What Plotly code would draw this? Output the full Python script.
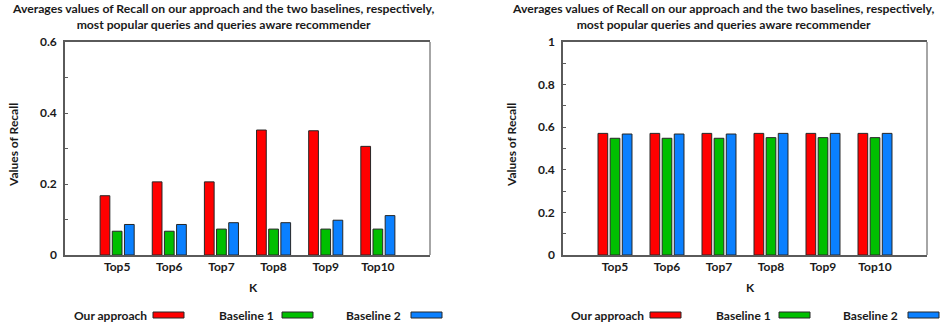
import plotly.graph_objects as go

categories = ["Top5", "Top6", "Top7", "Top8", "Top9", "Top10"]
series_names = ["Our approach", "Baseline 1", "Baseline 2"]
colors = ["#FF0000", "#00BF00", "#0A80FF"]

left_values = [
    [0.167, 0.206, 0.206, 0.352, 0.350, 0.306],
    [0.067, 0.067, 0.073, 0.073, 0.073, 0.073],
    [0.086, 0.086, 0.091, 0.091, 0.098, 0.111],
]
right_values = [
    [0.571, 0.571, 0.571, 0.571, 0.571, 0.571],
    [0.548, 0.548, 0.548, 0.551, 0.551, 0.551],
    [0.568, 0.568, 0.568, 0.571, 0.571, 0.571],
]
left_yticks = [0, 0.2, 0.4, 0.6]
left_ytext = ["0", "0.2", "0.4", "0.6"]
right_yticks = [0, 0.2, 0.4, 0.6, 0.8, 1]
right_ytext = ["0", "0.2", "0.4", "0.6", "0.8", "1"]

title_text = ("Averages values of Recall on our approach and the two baselines, respectively,"
              "<br>most popular queries and queries aware recommender")
y_title = "Values of Recall"
x_title = "K"

FONT = "Lato, 'Open Sans', sans-serif"
W, H = 942, 326


def px(x):
    return x / W


def py(y):
    return 1 - y / H


fig = go.Figure()
for vals, xa, ya in [(left_values, "x", "y"), (right_values, "x2", "y2")]:
    for name, col, v in zip(series_names, colors, vals):
        fig.add_trace(go.Bar(
            x=categories, y=v, name=name, xaxis=xa, yaxis=ya,
            marker=dict(color=col, line=dict(color="#262626", width=1)),
            showlegend=False,
        ))

axis_dark = "#5a5a5a"
common_x = dict(type="category", range=[-1.0, 6.0], showgrid=False, ticks="",
                showline=True, linecolor=axis_dark, linewidth=1.5, mirror=True,
                tickfont=dict(family=FONT, size=12, color="#1a1a1a", weight="bold"),
                zeroline=False, automargin=False)


def yaxis(rng, tv, tt, anchor):
    return dict(range=rng, tickvals=tv, ticktext=tt, showgrid=False, zeroline=False,
                showline=True, linecolor=axis_dark, linewidth=1.5,
                ticks="inside", ticklen=3, tickcolor=axis_dark,
                minor=dict(dtick=0.1, ticks="inside", ticklen=3, tickcolor=axis_dark),
                tickfont=dict(family=FONT, size=12, color="#1a1a1a", weight="bold"),
                anchor=anchor, ticklabelstandoff=4, automargin=False)


y0, y1 = py(255), py(42)
lx0, lx1 = px(65), px(430)
rx0, rx1 = px(563), px(927)

fig.update_layout(
    template="none",
    width=W, height=H, margin=dict(l=0, r=0, t=0, b=0, pad=0, autoexpand=False),
    paper_bgcolor="white", plot_bgcolor="white",
    barmode="group", bargap=0.3, bargroupgap=0.2,
    xaxis=dict(domain=[lx0, lx1], anchor="y", **common_x),
    xaxis2=dict(domain=[rx0, rx1], anchor="y2", **common_x),
    yaxis=dict(domain=[y0, y1], **yaxis([0, 0.6], left_yticks, left_ytext, "x")),
    yaxis2=dict(domain=[y0, y1], **yaxis([0, 1], right_yticks, right_ytext, "x2")),
    font=dict(family=FONT, color="#1a1a1a"),
)

shapes = []
annotations = []
for xd, yd in [("x domain", "y domain"), ("x2 domain", "y2 domain")]:
    shapes.append(dict(type="line", xref=xd, yref=yd, x0=1, x1=1, y0=0, y1=1,
                       line=dict(color="#a6a6a6", width=2)))

for cx, ytx, kx, leg_text_x, leg_sw_x in [
    (223, 13, 253, [72, 217, 344], [153, 282, 411]),
    (723, 511, 750, [569, 714, 841], [650, 779, 908]),
]:
    annotations.append(dict(text=title_text, x=px(cx), y=py(16), xref="paper", yref="paper",
                            showarrow=False, xanchor="center", yanchor="middle",
                            font=dict(family=FONT, size=12.2, color="#1a1a1a", weight="bold")))
    annotations.append(dict(text=y_title, x=px(ytx), y=py(145), xref="paper", yref="paper",
                            showarrow=False, textangle=-90, xanchor="center", yanchor="middle",
                            font=dict(family=FONT, size=12, color="#1a1a1a", weight="bold")))
    annotations.append(dict(text=x_title, x=px(kx), y=py(287), xref="paper", yref="paper",
                            showarrow=False, xanchor="center", yanchor="middle",
                            font=dict(family=FONT, size=12, color="#1a1a1a", weight="bold")))
    for name, col, tx, sx in zip(series_names, colors, leg_text_x, leg_sw_x):
        annotations.append(dict(text=name, x=px(tx), y=py(315), xref="paper", yref="paper",
                                showarrow=False, xanchor="left", yanchor="middle",
                                font=dict(family=FONT, size=12, color="#1a1a1a", weight="bold")))
        shapes.append(dict(type="rect", xref="paper", yref="paper",
                           x0=px(sx), x1=px(sx + 31), y0=py(318), y1=py(312),
                           fillcolor=col, line=dict(color="#262626", width=1)))

fig.update_layout(shapes=shapes, annotations=annotations)
fig.write_html("out.html",
               config={"displayModeBar": False},
               post_script="document.body.style.margin='0';document.body.style.overflow='hidden';")
